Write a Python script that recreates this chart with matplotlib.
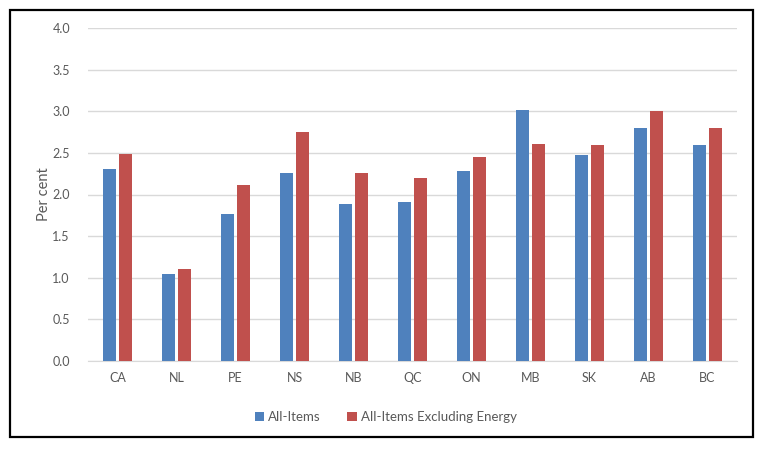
import numpy as np
import matplotlib
matplotlib.use("Agg")
import matplotlib.pyplot as plt
from matplotlib.patches import Rectangle

provinces = ["CA", "NL", "PE", "NS", "NB", "QC", "ON", "MB", "SK", "AB", "BC"]
all_items = [2.31, 1.05, 1.76, 2.26, 1.88, 1.91, 2.28, 3.02, 2.48, 2.80, 2.60]
excl_energy = [2.49, 1.11, 2.12, 2.75, 2.26, 2.20, 2.45, 2.61, 2.59, 3.00, 2.80]

blue = "#4F81BD"
red = "#C0504D"
grey_text = "#595959"

plt.rcParams["font.family"] = ["Lato", "DejaVu Sans"]

fig = plt.figure(figsize=(7.68, 4.5), dpi=100)
ax = fig.add_axes([88 / 768, 1 - 361 / 450, 649 / 768, 333 / 450])

x = np.arange(len(provinces))
w = 0.22
gap = 0.05
ax.bar(x - (w + gap) / 2, all_items, w, color=blue, label="All-Items", zorder=3)
ax.bar(x + (w + gap) / 2, excl_energy, w, color=red,
       label="All-Items Excluding Energy", zorder=3)

ax.set_xlim(-0.5, len(provinces) - 0.5)
ax.set_ylim(0, 4.0)
ax.set_yticks(np.arange(0, 4.01, 0.5))
ax.set_yticklabels([f"{v:.1f}" for v in np.arange(0, 4.01, 0.5)])
ax.set_xticks(x)
ax.set_xticklabels(provinces)
ax.yaxis.grid(True, color="#D9D9D9", linewidth=1, zorder=0)
ax.set_axisbelow(True)
for s in ["top", "right", "left"]:
    ax.spines[s].set_visible(False)
ax.spines["bottom"].set_color("#D9D9D9")
ax.tick_params(axis="both", length=0, colors=grey_text, labelsize=9)
ax.tick_params(axis="y", pad=13)
ax.tick_params(axis="x", pad=8)
ax.set_ylabel("Per cent", color=grey_text, fontsize=10.5, labelpad=1)

ax.legend(loc="upper center", bbox_to_anchor=(0.459, -0.115), ncol=2, frameon=False,
          fontsize=9.5, handlelength=0.7, handleheight=0.7, handletextpad=0.35,
          columnspacing=2.0, labelcolor=grey_text)

fig.patches.append(Rectangle((10 / 768, 1 - 437 / 450), 743 / 768, 427 / 450,
                             transform=fig.transFigure, fill=False,
                             edgecolor="black", linewidth=1.6))

fig.savefig("out.png", dpi=100)
